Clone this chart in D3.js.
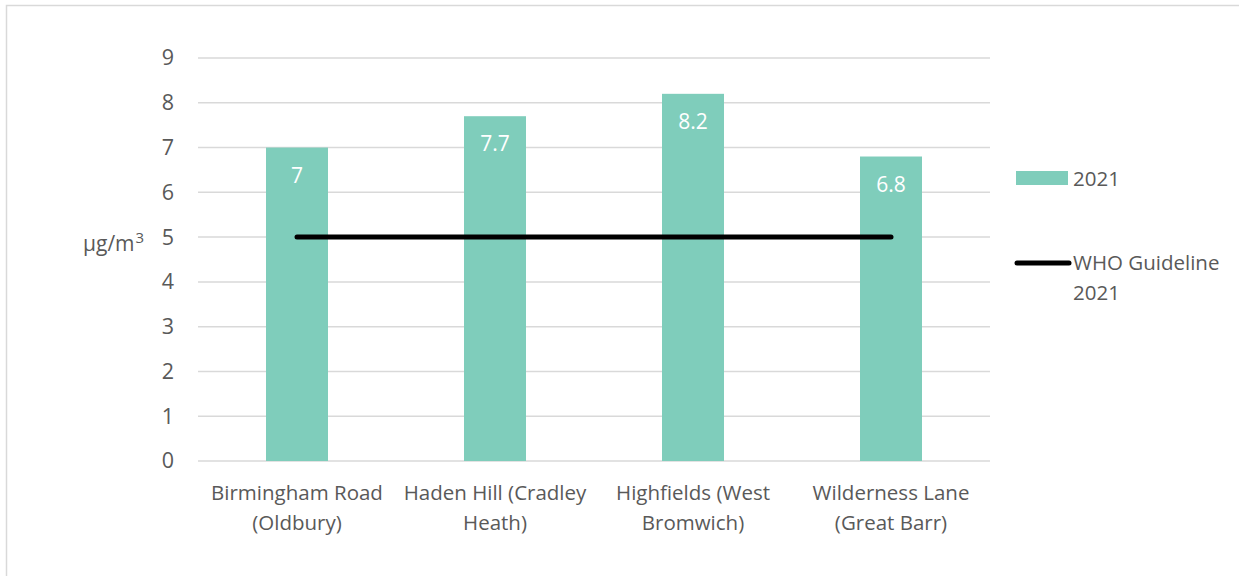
<!DOCTYPE html>
<html><head><meta charset="utf-8">
<script src="https://cdn.jsdelivr.net/npm/d3@7"></script>
<style>body{margin:0;background:#fff;}text{font-family:"Open Sans",sans-serif;}</style>
</head><body><svg id="c" width="1239" height="576"></svg>
<script>
const categories = [["Birmingham Road","(Oldbury)"],["Haden Hill (Cradley","Heath)"],["Highfields (West","Bromwich)"],["Wilderness Lane","(Great Barr)"]];
const values2021 = [7, 7.7, 8.2, 6.8];
const whoGuideline = [5, 5, 5, 5];
const yTicks = [0,1,2,3,4,5,6,7,8,9];

const svg = d3.select("#c");
const textCol = "#595959";
const barCol = "#7fcdbb";
const fs = "20.5px";
svg.append("rect").attr("x",6.5).attr("y",5.5).attr("width",1300).attr("height",700)
  .attr("fill","none").attr("stroke","#d9d9d9").attr("stroke-width",1.5);

const x = d3.scaleBand().domain(d3.range(categories.length)).range([198,990]).paddingInner(0).paddingOuter(0);
const y = d3.scaleLinear().domain([0,9]).range([461,58]);

const grid = svg.append("g");
grid.selectAll("line").data(yTicks).join("line")
  .attr("x1",198).attr("x2",990).attr("y1",d=>y(d)).attr("y2",d=>y(d))
  .attr("stroke","#d9d9d9").attr("stroke-width",1.5);

const yAxis = svg.append("g").attr("transform","translate(198,0)")
  .call(d3.axisLeft(y).tickValues(yTicks).tickSize(0).tickPadding(24));
yAxis.select(".domain").remove();
yAxis.selectAll("text").attr("fill",textCol).style("font-size","21.5px").style("font-family","'Open Sans',sans-serif");

const bw = 62;
svg.selectAll("rect.bar").data(values2021).join("rect").attr("class","bar")
  .attr("x",(d,i)=>x(i)+x.bandwidth()/2-bw/2).attr("width",bw)
  .attr("y",d=>y(d)).attr("height",d=>y(0)-y(d)).attr("fill",barCol);

svg.selectAll("text.lbl").data(values2021).join("text").attr("class","lbl")
  .attr("x",(d,i)=>x(i)+x.bandwidth()/2).attr("y",d=>y(d)+35)
  .attr("text-anchor","middle").attr("fill","#fff").style("font-size","21px").text(d=>d);

const line = d3.line().x((d,i)=>x(i)+x.bandwidth()/2).y(d=>y(d));
svg.append("path").datum(whoGuideline).attr("d",line).attr("fill","none")
  .attr("stroke","#000").attr("stroke-width",5).attr("stroke-linecap","round");

const xl = svg.append("g");
categories.forEach((c,i)=>{
  const t = xl.append("text").attr("x",x(i)+x.bandwidth()/2).attr("y",500)
    .attr("text-anchor","middle").attr("fill",textCol).style("font-size",fs);
  c.forEach((s,j)=>t.append("tspan").attr("x",x(i)+x.bandwidth()/2).attr("dy",j?30:0).text(s));
});

const yl = svg.append("text").attr("x",83).attr("y",251).attr("fill",textCol).style("font-size","21px");
yl.append("tspan").text("μg/m");
yl.append("tspan").attr("dy",-8).attr("dx",1).style("font-size","15px").text("3");

// legend
svg.append("rect").attr("x",1016).attr("y",171).attr("width",52).attr("height",14).attr("fill",barCol);
svg.append("text").attr("x",1073).attr("y",186).attr("fill",textCol).style("font-size",fs).text("2021");
svg.append("line").attr("x1",1017).attr("x2",1069).attr("y1",263).attr("y2",263)
  .attr("stroke","#000").attr("stroke-width",5).attr("stroke-linecap","round");
const lt = svg.append("text").attr("x",1073).attr("y",270).attr("fill",textCol).style("font-size",fs);
lt.append("tspan").attr("x",1073).text("WHO Guideline");
lt.append("tspan").attr("x",1073).attr("dy",30).text("2021");
</script></body></html>
